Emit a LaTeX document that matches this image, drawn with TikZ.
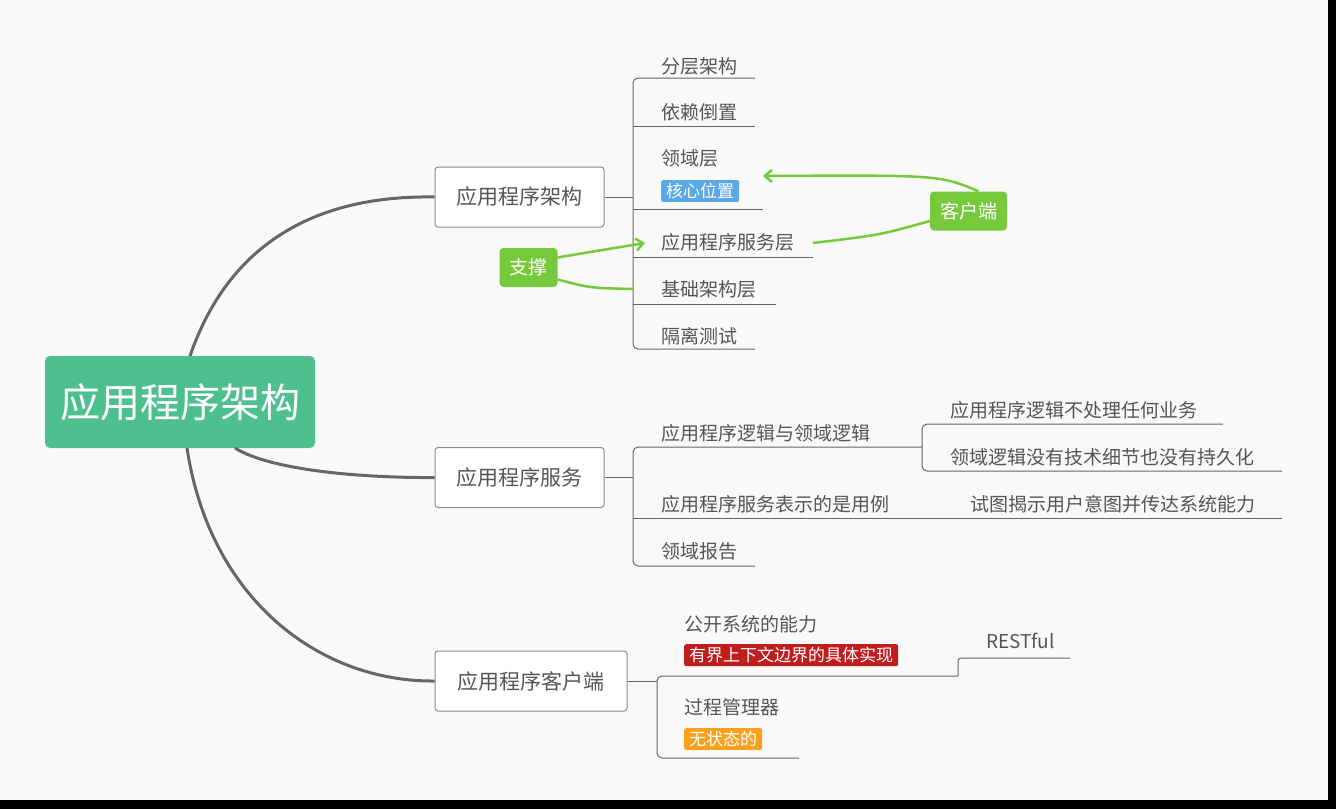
\documentclass[tikz,border=0pt]{standalone}
\usepackage{fontspec}
\setmainfont{Noto Sans CJK SC}
\usetikzlibrary{arrows.meta}
\definecolor{bg}{HTML}{F9F9F9}
\definecolor{txt}{HTML}{555555}
\definecolor{rootc}{HTML}{4DC08E}
\definecolor{lime}{HTML}{76C93A}
\definecolor{tblue}{HTML}{5AA9E6}
\definecolor{tred}{HTML}{BF1E1E}
\definecolor{tora}{HTML}{F8A21C}
\tikzset{
 x=1pt,y=-1pt,
 br/.style={draw=black!45,line width=1pt,fill=white,rounded corners=3pt,minimum height=60pt,text=txt,font=\fontsize{21}{24}\selectfont,inner xsep=16pt},
 leaf/.style={anchor=west,text=txt,font=\fontsize{19}{22}\selectfont,inner sep=0pt},
 tag/.style={anchor=north west,text=white,font=\fontsize{17}{20}\selectfont,rounded corners=2pt,inner xsep=5pt,inner ysep=3pt},
 ul/.style={draw=black!60,line width=1pt},
 trunk/.style={draw=black!60,line width=3pt},
 callout/.style={fill=lime,text=white,rounded corners=4pt,font=\fontsize{19}{22}\selectfont,inner xsep=10pt,minimum height=39pt},
 gl/.style={draw=lime,line width=2.5pt}
}
\begin{document}
\begin{tikzpicture}
\fill[bg] (0,0) rectangle (1336,809);
\fill[black] (1328,0) rectangle (1336,809);
\fill[black] (0,800) rectangle (1336,809);
\useasboundingbox (0,0) rectangle (1336,809);

\node[fill=rootc,text=white,rounded corners=5pt,minimum width=270pt,minimum height=92pt,font=\fontsize{40}{46}\selectfont] (root) at (180,402) {应用程序架构};
\node[br,minimum width=169pt] (b1) at (519.5,197) {应用程序架构};
\node[br,minimum width=169pt] (b2) at (519.5,477.5) {应用程序服务};
\node[br,minimum width=192pt] (b3) at (531,681) {应用程序客户端};

\coordinate (r1) at (190,356); \coordinate (r2) at (235,448); \coordinate (r3) at (187,448);
\draw[trunk] (r1) .. controls (230,240) and (320,195) .. (b1.west);
\draw[trunk] (r2) .. controls (270,470) and (360,478) .. (b2.west);
\draw[trunk] (r3) .. controls (210,600) and (320,682) .. (b3.west);

% branch 1
\node[leaf] (l11) at (661,66) {分层架构};
\node[leaf] (l12) at (661,112) {依赖倒置};
\node[leaf] (l13) at (661,158) {领域层};
\node[tag,fill=tblue] (t13) at (661,180) {核心位置};
\node[leaf] (l14) at (661,242) {应用程序服务层};
\node[leaf] (l15) at (661,289) {基础架构层};
\node[leaf] (l16) at (661,336) {隔离测试};
\draw[ul] (b1.east) -- (633,197);
\draw[ul,rounded corners=5pt] (755,78) -- (633,78) -- (633,349) -- (755,349);
\draw[ul] (633,126) -- (755,126);
\draw[ul] (633,209) -- (763,209);
\draw[ul] (633,257) -- (813,257);
\draw[ul] (633,304) -- (776,304);

% branch 2
\node[leaf] (l21) at (661,433) {应用程序逻辑与领域逻辑};
\node[leaf] (l22) at (661,504) {应用程序服务表示的是用例};
\node[leaf] (l23) at (661,551) {领域报告};
\node[leaf] (l211) at (950,410) {应用程序逻辑不处理任何业务};
\node[leaf] (l212) at (950,457) {领域逻辑没有技术细节也没有持久化};
\node[leaf] (l221) at (970,504) {试图揭示用户意图并传达系统能力};
\draw[ul] (b2.east) -- (633,477.5);
\draw[ul,rounded corners=5pt] (922,447) -- (633,447) -- (633,566) -- (755,566);
\draw[ul] (633,518) -- (1282,518);
\draw[ul,rounded corners=5pt] (1223,424) -- (922,424) -- (922,471) -- (1282,471);

% branch 3
\node[leaf] (l31) at (684,624) {公开系统的能力};
\node[tag,fill=tred] (t31) at (684,644) {有界上下文边界的具体实现};
\node[leaf] (l32) at (684,707) {过程管理器};
\node[tag,fill=tora] (t32) at (684,728) {无状态的};
\node[leaf] (l311) at (986,641) {RESTful};
\draw[ul] (b3.east) -- (657,681);
\draw[ul,rounded corners=5pt] (958,676) -- (657,676) -- (657,758) -- (799,758);
\draw[ul,rounded corners=3pt] (958,676) -- (958,658) -- (1070,658);

% callouts
\node[callout] (zc) at (528.5,267.5) {支撑};
\node[callout] (kh) at (968.5,211) {客户端};
\coordinate (a1) at (645,243);
\coordinate (a2) at (633,289);
\coordinate (a3) at (813,243);
\coordinate (a4) at (763,176);
\draw[gl,-{Straight Barb[length=7pt,width=12pt]}] (zc.east) ++(0,-10) .. controls (590,252) .. (a1);
\draw[gl] (zc.east) ++(0,12) .. controls (590,288) .. (a2);
\draw[gl] (kh.west) ++(0,10) .. controls (880,235) .. (a3);
\draw[gl,-{Straight Barb[length=7pt,width=12pt]}] (kh.north) ++(10,0) .. controls (940,175) .. (a4);
\end{tikzpicture}
\end{document}
